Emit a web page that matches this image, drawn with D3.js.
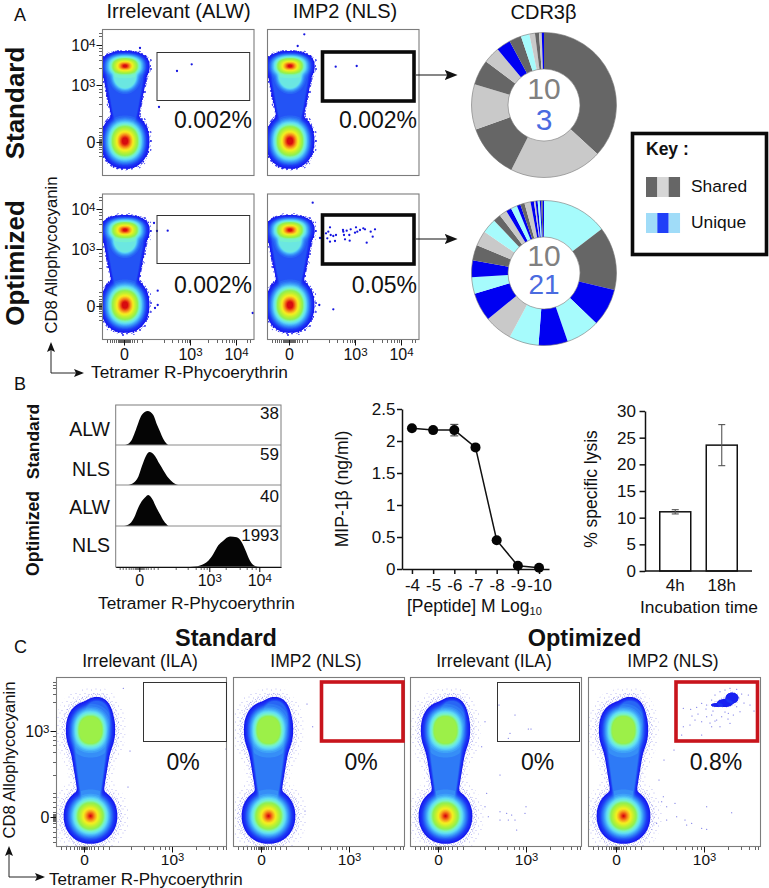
<!DOCTYPE html>
<html><head><meta charset="utf-8">
<script src="https://cdn.jsdelivr.net/npm/d3@7"></script>
<style>html,body{margin:0;background:#fff}svg{display:block}text{font-family:"Liberation Sans",Arial,sans-serif;fill:#111}</style>
</head><body><svg id="c" width="769" height="888"></svg>
<script>
// ---------- data ----------
// Flow plots use instrument channels (x, y); density is described by lobes.
const lobesA=[
 {x:23,y:35,rx:24.5,ry:28,cap:1,gain:1.1,p:2.2},
 {x:23,y:110,rx:24.5,ry:15,cap:1,gain:1.05,p:2.4},
 {x:23,y:100,rx:18,ry:20,cap:.42,gain:1,p:2},
 {x:23,y:80,rx:18,ry:36,cap:.16,gain:1,p:4,taper:.4}];
const lobesC=[
 {x:34.5,y:31,rx:27,ry:28,cap:1,gain:1,p:2.1},
 {x:34.5,y:117,rx:24.5,ry:29,cap:.56,gain:1,p:2.3},
 {x:41,y:128,rx:15.5,ry:22,cap:.2,gain:1,p:2.2},
 {x:34.5,y:76,rx:16.5,ry:50,cap:.24,gain:1,p:4,taper:.5}];
const clusterC4=[{x:143,y:149,rx:6.5,ry:5.5,cap:.05,gain:1,p:2},{x:136,y:144,rx:8,ry:4,cap:.05,gain:1,p:2},{x:128,y:142,rx:6,ry:2,cap:.05,gain:1,p:2}];

const dotsA1=[[75,105],[89.7,111.7],[57,69],[38,128]];
const dotsA2=[[68.7,109.3],[89.7,110],[37.3,141.7],[30.7,130]];
const dotsA3=[[65.7,109.3],[55,109],[52,117],[55.7,49.3],[55.7,35],[53,32],[150.7,27]];
const dotsA4=[[45.7,137.3],[66.3,30.7],[52.3,35],[53,102],[55.7,103.3],[59,106.7],[61.3,108.3],[63,112.7],[60.3,101.7],[63.7,105],[66.3,104],[69,105],[63,98.3],[68,99],[76,110],[76.3,108.3],[77,105],[79.7,109.3],[83.7,110.7],[89,112.7],[90.3,108.3],[93,110],[96.3,111.7],[98,110.7],[103.7,108.3],[108,110.7],[105.7,103.3],[99.7,97.3],[82.3,105],[78,100.7],[82.7,99.3],[88,107.3]];
const dotsC1=[[67.3,158.7],[74,96],[72,60],[170,98]];
const dotsC2=[[79.7,120.3],[72,36],[74,143]];
const dotsC3=[[90,72],[76.7,53.7],[75,40.3],[78.3,30.3],[90,35.3],[96.7,33.7],[101.7,32],[106.7,17],[115,33.7],[116,40.3],[105,27],[98.3,27],[90,27],[100,113.7],[105,132],[118.3,118],[121,118],[89,142],[98.3,108.7],[71.7,100.3],[75,125.3]];
const dotsC4=[[95.3,138.7],[102.7,137.7],[108.7,139.7],[113.7,143.7],[118.7,142],[123.7,147],[127,152],[132,155.3],[137,157],[142,158.7],[148.7,157.7],[153.7,153],[160.3,152],[162,142],[148.7,140.3],[152,135.3],[145.3,132],[140.3,133.7],[133.7,130.3],[128.7,127],[123.7,132],[118.7,130.3],[113.7,125.3],[107,127],[102,122],[95.3,120.3],[93.7,112],[113.7,112],[123.7,120.3],[132,120.3],[142,123.7],[125,136],[118,138],[110,133],[104,131],[127,126],[122,124],[137,135],[156,144],[166,136],[140,128],[150,150],[146,145],[128,141],[136,149],
 [73.7,45.3],[78.7,40.3],[87,43.7],[88.7,30.3],[97,27],[98.7,22],[103.7,23.7],[113.7,18.7],[118.7,17.7],[118.7,40.3],[143.7,34.3],[78.7,27],[68.7,23.7],[75.3,50.3],[76,87],[86,97],[71,67]];

const axisAXTicks=[22,88,134], axisAXLabels=["0","10^3","10^4"];
const axisAXMinor=[5,8,10,12,14,16,17,18,19,20,21,23,24,25,26,27,28,30,32,35,40,62,70,76,80,83,85,87,106,115,120,124,127,130,132,145,148];
const axisAYTicks=[34,91,131], axisAYLabels=["0","10^3","10^4"];
const axisAYMinor=[20,24,27,29,31,32,33,35,36,37,39,41,44,48,60,72,79,84,87,108,116,121,125,128,140,143];
const axisCXTicks=[28,116], axisCXLabels=["0","10^3"];
const axisCXMinor=[5,10,14,18,21,23,25,26,27,29,30,31,33,35,38,42,47,53,75,88,97,104,109,113,140,153,161,167,170];
const axisCYTicks=[30,116], axisCYLabels=["0","10^3"];
const axisCYMinor=[5,10,15,20,24,26,27,28,29,31,32,33,35,40,45,50,54,72,85,95,102,107,111,145,153,159,162,165];

const pctA=["0.002%","0.002%","0.002%","0.05%"];
const pctC=["0%","0%","0%","0.8%"];
const titlesA=["Irrelevant (ALW)","IMP2 (NLS)"];
const titlesC=["Irrelevant (ILA)","IMP2 (NLS)","Irrelevant (ILA)","IMP2 (NLS)"];

const donut1Kinds=["S","s","S","s","S","s","U","S","u","s","S","s","U"];
const donut1Vals=[36.8,20.6,12.1,10.1,5.6,3.7,3.2,2.7,1.9,1.25,.9,.6,.5];
const donut2Kinds=["u","S","U","u","U","u","s","U","u","U","S","s","u","S","s","U","u","U","S","s","U","s","U","u","U","S","U"];
const donut2Vals=[14.6,14.1,8.4,7.5,6.5,6.6,6.2,6.3,3.7,3.75,3.4,3.4,3.25,1.7,1.7,1.2,1.4,.8,.95,1.35,.75,.36,.47,.47,.3,.33,.3];

const histRows=["ALW","NLS","ALW","NLS"];
const histNums=["38","59","40","1993"];
const hist1X=[8.3,12.6,16,19.3,22.6,26,32,37.6,41,44.3,47.6,51,52.6];
const hist1Y=[0,4,15,38,65,88,100,88,62,40,18,4,0];
const hist2X=[12.6,17.6,22.6,26,29.3,33.7,39.3,43.6,47.6,52.6,57.6,62.6];
const hist2Y=[0,6,25,55,82,100,88,65,45,22,7,0];
const hist3X=[8.3,14.3,18.6,22,26,29.3,32.6,37,40.3,44.3,48.3,52.6];
const hist3Y=[0,8,28,55,80,92,100,85,62,38,15,0];
const hist4X=[74.3,84.3,92.6,97.6,102.6,107.6,114.3,121,126,130.3,134.3,139.3,144.3];
const hist4Y=[0,5,20,42,70,85,98,96,80,50,20,3,0];
const histTicks=[23.6,93.6,143.6], histLabels=["0","10^3","10^4"];
const histMinor=[4,7,10,13,15,17,19,20,21,22,23,24,25,26,27,28,30,32,35,38,42,60,72,80,85,88,91,110,124,131,136,140];

const doseX=[-4,-5,-6,-7,-8,-9,-10];
const doseY=[2.2,2.17,2.17,1.9,.45,.05,.02];
const doseErr=[.03,.04,.09,.04,.03,.02,.01];
const doseYTicks=[0,.5,1,1.5,2,2.5];

const lysisCats=["4h","18h"];
const lysisVals=[11.1,23.6];
const lysisErr=[.4,3.85];
const lysisTicks=[0,5,10,15,20,25,30];

// ---------- helpers ----------
const svg=d3.select("#c");
const defs=svg.append("defs");
const mk=(id,size)=>defs.append("marker").attr("id",id).attr("viewBox","0 0 10 10").attr("refX",8).attr("refY",5)
 .attr("markerWidth",size).attr("markerHeight",size).attr("orient","auto-start-reverse").attr("markerUnits","userSpaceOnUse")
 .append("path").attr("d","M0,1L10,5L0,9L2,5Z").attr("fill","#111");
mk("ah",10);mk("ahB",13);

function stipple(id,w,h,pts,r,col,op){
 const p=defs.append("pattern").attr("id",id).attr("patternUnits","userSpaceOnUse").attr("width",w).attr("height",h);
 pts.forEach(q=>p.append("circle").attr("cx",q[0]).attr("cy",q[1]).attr("r",r).attr("fill",col).attr("opacity",op));
}
stipple("denseA",5,5,[[1,1],[3.5,2],[2,4]],1,"#1414e8",1);
stipple("sparseA",11,9,[[2,2],[8,6]],.9,"#1414e8",1);
stipple("denseC",4,5,[[.7,1],[2.6,2.2],[1.4,3.8],[3.4,4.4]],.42,"#2c2cd8",.8);
stipple("sparseC",9,8,[[1.5,2],[6,1],[4,5.5],[8,6.5]],.42,"#3a3ad8",.7);

function T(x,y,s,o={}){
 const t=svg.append("text").attr("x",x).attr("y",y).attr("font-size",o.size||17)
  .attr("text-anchor",o.anchor||"start").text(s);
 if(o.weight)t.attr("font-weight",o.weight);
 if(o.fill)t.style("fill",o.fill);
 if(o.rot)t.attr("transform",`rotate(${o.rot} ${x} ${y})`);
 return t;
}
function supLabels(g,labels,size){
 g.selectAll(".tick.major text").each(function(d,i){
  const t=d3.select(this).text(null).attr("font-size",size), parts=labels[i].split("^");
  t.append("tspan").text(parts[0]);
  if(parts[1])t.append("tspan").attr("dy","-0.35em").attr("font-size",size*.72).text(parts[1]);
 });
}
const heat=d3.scaleLinear()
 .domain([0,.12,.2,.28,.36,.44,.52,.62,.72,.8,.88,.96])
 .range(['#1616f0','#1d3cf5','#2a70f5','#3fa5f8','#60dcf5','#78f5c8','#90f050','#c0f030','#f5f020','#f8b020','#f06015','#d81010']);

let clipN=0;
function flowPlot(o){
 const g=svg.append("g"), id="cp"+(clipN++);
 const xS=d3.scaleLinear().domain([0,o.w]).range([o.x0,o.x0+o.w]);
 const yS=d3.scaleLinear().domain([0,o.h]).range([o.y0+o.h,o.y0]);
 defs.append("clipPath").attr("id",id).append("rect").attr("x",o.x0).attr("y",o.y0).attr("width",o.w).attr("height",o.h);
 const body=g.append("g").attr("clip-path",`url(#${id})`);
 const W=Math.round(o.w*2),H=Math.round(o.h*2),k=14,v=new Float64Array(W*H);
 for(let j=0;j<H;j++)for(let i=0;i<W;i++){
  const x=(i+.5)/2,y=(j+.5)/2;let s=0;
  for(const l of o.lobes){
   const rx=l.rx*(1+(l.taper||0)*Math.max(-1,Math.min(1,(y-l.y)/l.ry)));
   const d=Math.pow(Math.pow(Math.abs(x-l.x-(o.dx||0))/rx,l.p)+Math.pow(Math.abs(y-l.y)/l.ry,l.p),1/l.p);
   s+=Math.exp(k*Math.max(-1.5,Math.min(l.cap,l.gain*(1-d))));
  }
  v[j*W+i]=Math.log(s)/k;
 }
 const path=d3.geoPath(d3.geoTransform({point(x,y){this.stream.point(xS(x/2),yS(y/2));}}));
 const bands=[[o.halo[0],`url(#${o.pat[0]})`],[o.halo[1],`url(#${o.pat[1]})`]];
 d3.range(.005,.99,.03).forEach(t=>bands.push([t,heat(t)]));
 const cs=d3.contours().size([W,H]).thresholds(bands.map(b=>b[0]))(Array.from(v));
 body.selectAll("path").data(cs).join("path").attr("d",path).attr("fill",(d,i)=>bands[i][1]);
 body.selectAll("circle").data(o.dots).join("circle").attr("cx",d=>xS(d[0])).attr("cy",d=>yS(d[1])).attr("r",o.dotR).attr("fill",o.dotCol).attr("opacity",o.dotOp);
 g.append("rect").attr("x",o.x0+.5).attr("y",o.y0+.5).attr("width",o.w-1).attr("height",o.h-1).attr("fill","none").attr("stroke","#7c7c7c").attr("stroke-width",1.1);
 if(o.gate)g.append("rect").attr("x",o.gate[0]).attr("y",o.gate[1]).attr("width",o.gate[2]-o.gate[0]).attr("height",o.gate[3]-o.gate[1]).attr("fill","none").attr("stroke",o.gateCol).attr("stroke-width",o.gateW);
 const ax=(axis,t,m,labels,left)=>{
  const a=g.append("g").attr("transform",left?`translate(${o.x0},0)`:`translate(0,${o.y0+o.h})`);
  a.call(axis.tickValues(m).tickSize(3).tickFormat("").tickSizeOuter(0));
  a.selectAll(".tick line").attr("stroke","#222").attr("stroke-width",.7);
  a.select(".domain").remove();
  a.selectAll("text").remove();
  const b=g.append("g").attr("transform",left?`translate(${o.x0},0)`:`translate(0,${o.y0+o.h})`);
  b.call(axis.tickValues(t).tickSize(5.5).tickPadding(left?1:(o.xPad??3)).tickFormat("").tickSizeOuter(0));
  b.selectAll(".tick").classed("major",true);
  b.selectAll(".tick line").attr("stroke","#111").attr("stroke-width",1);
  b.select(".domain").remove();
  supLabels(b,labels,left?16:(o.xFont||16));
  if(left)b.selectAll("text").attr("dy","0.36em");
 };
 if(o.xt)ax(d3.axisBottom(xS),o.xt[0],o.xt[1],o.xt[2],false);
 if(o.yt)ax(d3.axisLeft(yS),o.yt[0],o.yt[1],o.yt[2],true);
}

// ---------- panel A ----------
T(14,21,"A",{size:18});T(14,390,"B",{size:18});T(14,653,"C",{size:18});
T(178.5,17.5,titlesA[0],{size:20,anchor:"middle"});
T(345,17.5,titlesA[1],{size:20,anchor:"middle"});
T(543.5,18.5,"CDR3β",{size:20,anchor:"middle"});
T(23.5,103,"Standard",{size:26,weight:"bold",anchor:"middle",rot:-90});
T(23.5,263,"Optimized",{size:26,weight:"bold",anchor:"middle",rot:-90});
T(57,255,"CD8 Allophycocyanin",{size:16.6,anchor:"middle",rot:-90});
T(91,378,"Tetramer R-Phycoerythrin",{size:17.3});

const aX=[102,267], aY=[29,193.5];
const aDots=[dotsA1,dotsA2,dotsA3,dotsA4];
aY.forEach((y0,r)=>aX.forEach((x0,c)=>{
 const i=r*2+c, gy=r?[215.5,263.5]:[52.5,100.5];
 flowPlot({x0,y0,w:152.5,h:r?146.5:147,lobes:lobesA,halo:[-.12,-.05],pat:["sparseA","denseA"],dots:aDots[i],dotR:1.15,dotCol:"#1616e0",dotOp:1,
  gate:c?[322.5,gy[0]-.5,414,gy[1]+.5]:[157,gy[0],249.7,gy[1]],gateCol:c?"#0a0a0a":"#333",gateW:c?3.6:1,
  xt:r?[axisAXTicks,axisAXMinor,axisAXLabels]:null,yt:c?null:[axisAYTicks,axisAYMinor,axisAYLabels]});
 T(c?417:252,r?293:128,pctA[i],{size:23,anchor:"end"});
}));
[75,239].forEach(y=>svg.append("line").attr("x1",416).attr("x2",455).attr("y1",y).attr("y2",y).attr("stroke","#111").attr("stroke-width",1.2).attr("marker-end","url(#ahB)"));
svg.append("path").attr("d","M51,344V373H82").attr("fill","none").attr("stroke","#222").attr("stroke-width",1).attr("marker-start","url(#ah)").attr("marker-end","url(#ah)");

// donuts
const kindColor={S:"#666666",s:"#c9c9c9",U:"#0000f2",u:"#a6fbfc"};
function donut(vals,kinds,cx,cy,top,bottom){
 const g=svg.append("g").attr("transform",`translate(${cx},${cy})`);
 const arcs=d3.pie().sort(null)(vals);
 const arc=d3.arc().innerRadius(36).outerRadius(72.5);
 g.selectAll("path").data(arcs).join("path").attr("d",arc).attr("fill",(d,i)=>kindColor[kinds[i]]);
 [36,72.5].forEach(r=>g.append("circle").attr("r",r).attr("fill","none").attr("stroke","#777").attr("stroke-width",.6));
 T(cx,top,"10",{size:30,anchor:"middle",fill:"#808080"});
 T(cx,bottom,vals.length>20?"21":"3",{size:vals.length>20?28:30,anchor:"middle",fill:"#4a6be0"});
}
donut(donut1Vals,donut1Kinds,544,105,99,130);
donut(donut2Vals,donut2Kinds,544,273,266,294);

// key
svg.append("rect").attr("x",632.5).attr("y",133.5).attr("width",134).attr("height",121).attr("fill","#fff").attr("stroke","#0a0a0a").attr("stroke-width",3.6);
T(646,155,"Key :",{size:17.5,weight:"bold"});
const keyRows=[["Shared",["#666666","#d6d6d6","#666666"],177,192],["Unique",["#a0dcf8","#2040f8","#a0dcf8"],213,228]];
keyRows.forEach(k=>{k[1].forEach((c,i)=>svg.append("rect").attr("x",646+i*11.33).attr("y",k[2]).attr("width",11.4).attr("height",20).attr("fill",c));T(691,k[3],k[0],{size:17.4});});

// ---------- panel B histograms ----------
T(38.7,441.5,"Standard",{size:17.4,weight:"bold",anchor:"middle",rot:-90});
T(38.7,533.5,"Optimized",{size:17.6,weight:"bold",anchor:"middle",rot:-90});
const hx=d3.scaleLinear().domain([0,165.3]).range([115.7,281]);
const rowB=[445,485,526,567], labY=[436,476,514,552], numY=[419,460,502,541];
const histX=[hist1X,hist2X,hist3X,hist4X], histY=[hist1Y,hist2Y,hist3Y,hist4Y];
rowB.forEach((b,i)=>{
 const hy=d3.scaleLinear().domain([0,100]).range([b,b-[34,33,31,31][i]]);
 const pts=d3.zip(histX[i],histY[i]);
 svg.append("path").attr("d",d3.area().x(d=>hx(d[0])).y0(b).y1(d=>hy(d[1])).curve(d3.curveMonotoneX)(pts)).attr("fill","#050505");
 if(i<3)svg.append("line").attr("x1",115.7).attr("x2",281).attr("y1",b).attr("y2",b).attr("stroke","#8a8a8a").attr("stroke-width",1);
 T(110,labY[i],histRows[i],{size:19.5,anchor:"end"});
 T(279,numY[i],histNums[i],{size:17,anchor:"end"});
});
svg.append("rect").attr("x",115.7).attr("y",405).attr("width",165.3).attr("height",162).attr("fill","none").attr("stroke","#7c7c7c").attr("stroke-width",1);
const hm=svg.append("g").attr("transform","translate(0,567)").call(d3.axisBottom(hx).tickValues(histMinor).tickSize(3).tickFormat("").tickSizeOuter(0));
hm.select(".domain").remove();hm.selectAll(".tick line").attr("stroke-width",.7).attr("stroke","#222");hm.selectAll("text").remove();
const ha=svg.append("g").attr("transform","translate(0,567)").call(d3.axisBottom(hx).tickValues(histTicks).tickSize(5).tickPadding(3).tickFormat("").tickSizeOuter(0));
ha.selectAll(".tick").classed("major",true);
ha.select(".domain").attr("stroke","#111").attr("stroke-width",1);
supLabels(ha,histLabels,16);
T(98,609,"Tetramer R-Phycoerythrin",{size:17.3});

// ---------- dose response ----------
const dx=d3.scaleLinear().domain([-3.53,-10.47]).range([402,549]);
const dy=d3.scaleLinear().domain([0,2.5]).range([569,409]);
const styleAxis=a=>{a.selectAll("text").attr("font-size",17);a.selectAll("line,path").attr("stroke","#111").attr("stroke-width",1.5);};
svg.append("g").attr("transform","translate(0,569)").call(d3.axisBottom(dx).tickValues(doseX).tickFormat(d=>String(d)).tickSize(5).tickPadding(5).tickSizeOuter(0)).call(styleAxis);
svg.append("g").attr("transform","translate(402,0)").call(d3.axisLeft(dy).tickValues(doseYTicks).tickFormat(d=>String(d)).tickSize(5).tickPadding(1.5).tickSizeOuter(0)).call(styleAxis);
svg.append("path").attr("d",d3.line().x(d=>dx(d[0])).y(d=>dy(d[1]))(d3.zip(doseX,doseY))).attr("fill","none").attr("stroke","#111").attr("stroke-width",1.5);
const ebar=svg.append("g").attr("stroke","#333").attr("stroke-width",1);
d3.zip(doseX,doseY,doseErr).forEach(d=>{
 ebar.append("line").attr("x1",dx(d[0])).attr("x2",dx(d[0])).attr("y1",dy(d[1]-d[2])).attr("y2",dy(d[1]+d[2]));
 [-1,1].forEach(s=>ebar.append("line").attr("x1",dx(d[0])-4).attr("x2",dx(d[0])+4).attr("y1",dy(d[1]+s*d[2])).attr("y2",dy(d[1]+s*d[2])));
});
svg.append("g").selectAll("circle").data(d3.zip(doseX,doseY)).join("circle").attr("cx",d=>dx(d[0])).attr("cy",d=>dy(d[1])).attr("r",5).attr("fill","#050505");
T(348,489,"MIP-1β (ng/ml)",{size:17.6,anchor:"middle",rot:-90});
const pep=T(407,612,"[Peptide] M Log",{size:17.5});
pep.append("tspan").attr("dy","0.3em").attr("font-size",11).text("10");

// ---------- lysis bars ----------
const bx=d3.scaleBand().domain(lysisCats).range([652,745]).paddingInner(1/3).paddingOuter(1/6);
const by=d3.scaleLinear().domain([0,30]).range([571,411]);
svg.append("g").selectAll("rect").data(d3.zip(lysisCats,lysisVals)).join("rect").attr("x",d=>bx(d[0])).attr("width",bx.bandwidth()).attr("y",d=>by(d[1])).attr("height",d=>571-by(d[1])).attr("fill","#fff").attr("stroke","#111").attr("stroke-width",1.5);
const eb2=svg.append("g").attr("stroke","#555").attr("stroke-width",1.1);
d3.zip(lysisCats,lysisVals,lysisErr).forEach(d=>{
 const c=bx(d[0])+bx.bandwidth()/2;
 eb2.append("line").attr("x1",c).attr("x2",c).attr("y1",by(d[1]-d[2])).attr("y2",by(d[1]+d[2]));
 [-1,1].forEach(s=>eb2.append("line").attr("x1",c-3.5).attr("x2",c+3.5).attr("y1",by(d[1]+s*d[2])).attr("y2",by(d[1]+s*d[2])));
});
svg.append("g").attr("transform","translate(645,0)").call(d3.axisLeft(by).tickValues(lysisTicks).tickSize(5.5).tickPadding(3.5).tickSizeOuter(0)).call(styleAxis);
const bxa=svg.append("g").attr("transform","translate(0,571)").call(d3.axisBottom(bx).tickSize(0).tickPadding(8).tickSizeOuter(0)).call(styleAxis);
bxa.select(".domain").attr("d","M645,0H752");
T(597,489,"% specific lysis",{size:17.5,anchor:"middle",rot:-90});
T(699,613,"Incubation time",{size:17.4,anchor:"middle"});

// ---------- panel C ----------
T(226,646,"Standard",{size:23.5,weight:"bold",anchor:"middle"});
T(584.5,646,"Optimized",{size:23.5,weight:"bold",anchor:"middle"});
const cX=[56,233,410,588], cW=[171,172,172,173], cGate=[[143.5,226.5],[321.5,403],[497.5,579.5],[676,757.5]];
const cTitle=[140,316,494,673], cPct=[183,361,537.5,716], cDots=[dotsC1,dotsC2,dotsC3,dotsC4], cDx=[0,1,1,1];
cX.forEach((x0,i)=>{
 flowPlot({x0,y0:677,w:cW[i],h:170,lobes:i==3?lobesC.concat(clusterC4):lobesC,dx:cDx[i],halo:[-.42,-.17],pat:["sparseC","denseC"],dots:cDots[i],dotR:.55,dotCol:"#3030d8",dotOp:.85,
  gate:[cGate[i][0],i%2?682:682.5,cGate[i][1],i%2?741:741.5],gateCol:i%2?"#c8141c":"#333",gateW:i%2?3.6:1,xPad:1.5,xFont:15.5,
  xt:[axisCXTicks,axisCXMinor,axisCXLabels],yt:i?null:[axisCYTicks,axisCYMinor,axisCYLabels]});
 T(cTitle[i],667,titlesC[i],{size:17.5,anchor:"middle"});
 T(cPct[i],770,pctC[i],{size:23,anchor:"middle"});
});
T(15,760,"CD8 Allophycocyanin",{size:16.6,anchor:"middle",rot:-90});
T(49,884.5,"Tetramer R-Phycoerythrin",{size:17});
svg.append("path").attr("d","M9,848V877H43").attr("fill","none").attr("stroke","#222").attr("stroke-width",1).attr("marker-start","url(#ah)").attr("marker-end","url(#ah)");
</script></body></html>
